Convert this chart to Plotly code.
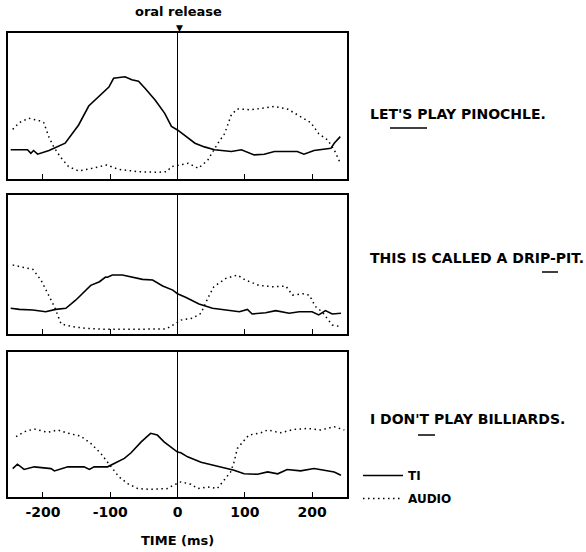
import plotly.graph_objects as go

W, H = 586, 552

# ---------------- data (ms, relative amplitude 0-100) ----------------
ti1_x = [-248, -223, -218, -214, -208, -191, -167, -147, -132, -117, -102, -95, -78, -68, -58, -48, -33, -19, -9, 0,
         11, 26, 40, 55, 80, 95, 114, 129, 144, 178, 188, 203, 228, 233, 242]
ti1_y = [20, 20, 17.6, 19.5, 17, 19.5, 24.5, 37, 50, 56.5, 63, 69, 70, 68, 67, 62, 54, 45, 36, 33.6,
         30, 24.5, 22, 20, 18.8, 20, 16.5, 17, 18.8, 18.8, 17, 19.5, 21, 24.5, 29]
au1_x = [-245, -235, -221, -206, -199, -191, -184, -174, -162, -147, -127, -105, -88, -58, -29, -16, -9, 3, 16, 31,
         45, 60, 70, 80, 89, 109, 129, 144, 164, 183, 198, 210, 223, 233, 242]
au1_y = [34, 38.7, 41.6, 40, 38.7, 28.6, 22, 15, 8.5, 5.5, 7.3, 9.6, 6.6, 5, 4.6, 5, 8.5, 9.6, 10.8, 7.3,
         13, 24.5, 31, 44, 48, 47.4, 48.5, 49.7, 47.8, 42.8, 38.7, 31, 26.8, 20, 10.8]

ti2_x = [-248, -235, -215, -196, -181, -166, -151, -141, -129, -116, -107, -104, -97, -82, -67, -52, -37, -22, -7, 0,
         12, 32, 52, 72, 92, 104, 111, 131, 146, 166, 181, 200, 210, 220, 230, 243]
ti2_y = [18.5, 17.7, 17.3, 16, 17.7, 18.5, 24.5, 29, 35, 37.6, 41, 40.8, 42.4, 42.4, 41, 39.3, 38.8, 34.5, 31.6, 29,
         26.4, 21.6, 18.5, 17.3, 16, 17.7, 14.4, 15.3, 16.8, 14.9, 16, 16, 13.7, 16.8, 14.4, 14.9]
au2_x = [-245, -230, -215, -203, -191, -183, -173, -156, -136, -106, -77, -47, -17, -2, 5, 22, 35, 45, 54, 72,
         89, 101, 121, 141, 161, 171, 186, 196, 205, 215, 230, 243]
au2_y = [49.6, 48, 46.5, 38.8, 28, 19.7, 7.2, 5.3, 4, 3.4, 3.4, 3.4, 3.6, 7.7, 10, 11.3, 14.9, 25.7, 34, 40,
         42.4, 38.8, 35, 34, 34.5, 28, 29, 28, 19.7, 16, 6.5, 5.3]

ti3_x = [-245, -238, -228, -213, -188, -183, -163, -139, -131, -124, -104, -94, -79, -69, -54, -40, -30, -20, -7, 0,
         5, 15, 35, 54, 84, 99, 119, 134, 149, 163, 183, 203, 218, 233, 243]
ti3_y = [19.6, 22.6, 19, 20.8, 19.6, 18, 20.8, 20.8, 19, 20.8, 20.8, 23, 26.6, 30.5, 38, 43.9, 42.7, 38, 33.5, 31,
         30.5, 27.7, 24, 22, 18.5, 16, 15.7, 17.3, 16, 19, 18, 19.6, 18.5, 17.3, 15]
au3_x = [-240, -228, -213, -193, -178, -163, -144, -129, -114, -99, -87, -74, -59, -40, -15, -7, 5, 20, 30, 45,
         59, 69, 79, 84, 89, 99, 106, 124, 134, 153, 173, 193, 213, 233, 248]
au3_y = [41.6, 45, 46.9, 44.6, 46.2, 44, 42, 37, 30, 20.8, 13.9, 9.2, 5.8, 5.3, 5.8, 8, 10.4, 8.8, 5.8, 7,
         5.8, 11.5, 17.3, 24, 33.5, 39, 42.7, 44.3, 46.2, 44.3, 46.6, 47.3, 46.2, 48.5, 46.2]

tick_vals = [-200, -100, 0, 100, 200]
tick_text = ["-200", "-100", "0", "100", "200"]
sentences = ["LET'S PLAY PINOCHLE.", "THIS IS CALLED A DRIP-PIT.", "I DON'T PLAY BILLIARDS."]
series_names = ["TI", "AUDIO"]

# ---------------- layout helpers ----------------
def px_x(p):
    return p / W

def px_y(p):
    return 1 - p / H

x_dom = [px_x(8), px_x(347)]
panels_px = [(33, 179), (195, 334), (352, 497)]
FONT = "DejaVu Sans, sans-serif"

fig = go.Figure()
ti_sets = [(ti1_x, ti1_y), (ti2_x, ti2_y), (ti3_x, ti3_y)]
au_sets = [(au1_x, au1_y), (au2_x, au2_y), (au3_x, au3_y)]

for i in range(3):
    xa = "x" if i == 0 else f"x{i+1}"
    ya = "y" if i == 0 else f"y{i+1}"
    fig.add_trace(go.Scatter(x=ti_sets[i][0], y=ti_sets[i][1], mode="lines",
                             line=dict(color="black", width=1.6),
                             name=series_names[0], showlegend=(i == 0), legendgroup="ti",
                             xaxis=xa, yaxis=ya, hoverinfo="skip"))
    fig.add_trace(go.Scatter(x=au_sets[i][0], y=au_sets[i][1], mode="lines",
                             line=dict(color="black", width=1.5, dash="1.5px,3.5px"),
                             name=series_names[1], showlegend=(i == 0), legendgroup="au",
                             xaxis=xa, yaxis=ya, hoverinfo="skip"))

layout = dict(
    width=W, height=H,
    margin=dict(l=0, r=0, t=0, b=0),
    paper_bgcolor="white", plot_bgcolor="white",
    font=dict(family=FONT, color="black", size=12, weight="bold"),
    showlegend=True,
    legend=dict(x=px_x(358), y=px_y(461), xanchor="left", yanchor="top",
                bgcolor="rgba(0,0,0,0)", font=dict(size=12, family=FONT, weight="bold"),
                tracegroupgap=4, traceorder="grouped", itemwidth=40),
)

for i, (top, bot) in enumerate(panels_px):
    xk = "xaxis" if i == 0 else f"xaxis{i+1}"
    yk = "yaxis" if i == 0 else f"yaxis{i+1}"
    ya = "y" if i == 0 else f"y{i+1}"
    layout[xk] = dict(domain=x_dom, range=[-252, 252], anchor=ya,
                      showline=True, mirror=True, linecolor="black", linewidth=1.6,
                      ticks="inside", ticklen=5, tickwidth=1.3, tickcolor="black",
                      tickvals=tick_vals, ticktext=tick_text,
                      showticklabels=(i == 2), ticklabelstandoff=1,
                      tickfont=dict(size=14, family=FONT, weight="bold"),
                      showgrid=False, zeroline=True, zerolinecolor="black", zerolinewidth=1.3)
    layout[yk] = dict(domain=[px_y(bot), px_y(top)], range=[0, 100], anchor="x" if i == 0 else f"x{i+1}",
                      showline=True, mirror=True, linecolor="black", linewidth=1.6,
                      showticklabels=False, ticks="", showgrid=False, zeroline=False)

fig.update_layout(**layout)

annotations = [
    dict(text="oral release", x=px_x(178), y=px_y(12), xref="paper", yref="paper",
         showarrow=False, xanchor="center", yanchor="middle",
         font=dict(size=13, family=FONT, weight="bold")),
    dict(text="▼", x=px_x(179), y=px_y(28), xref="paper", yref="paper",
         showarrow=False, xanchor="center", yanchor="middle",
         font=dict(size=9, family="DejaVu Sans")),
    dict(text="TIME (ms)", x=px_x(177), y=px_y(540), xref="paper", yref="paper",
         showarrow=False, xanchor="center", yanchor="middle",
         font=dict(size=13, family=FONT, weight="bold")),
]
label_y = [114, 258, 419]
for s, ly in zip(sentences, label_y):
    annotations.append(dict(text=s, x=px_x(368), y=px_y(ly), xref="paper", yref="paper",
                            showarrow=False, xanchor="left", yanchor="middle",
                            font=dict(size=14, family=FONT, weight="bold")))
fig.update_layout(annotations=annotations)

underlines = [(390, 427, 128), (542, 558, 272), (418, 435, 435)]
for x0, x1, yy in underlines:
    fig.add_shape(type="line", xref="paper", yref="paper",
                  x0=px_x(x0), x1=px_x(x1), y0=px_y(yy), y1=px_y(yy),
                  line=dict(color="black", width=1.5))

fig.write_html("out.html")
